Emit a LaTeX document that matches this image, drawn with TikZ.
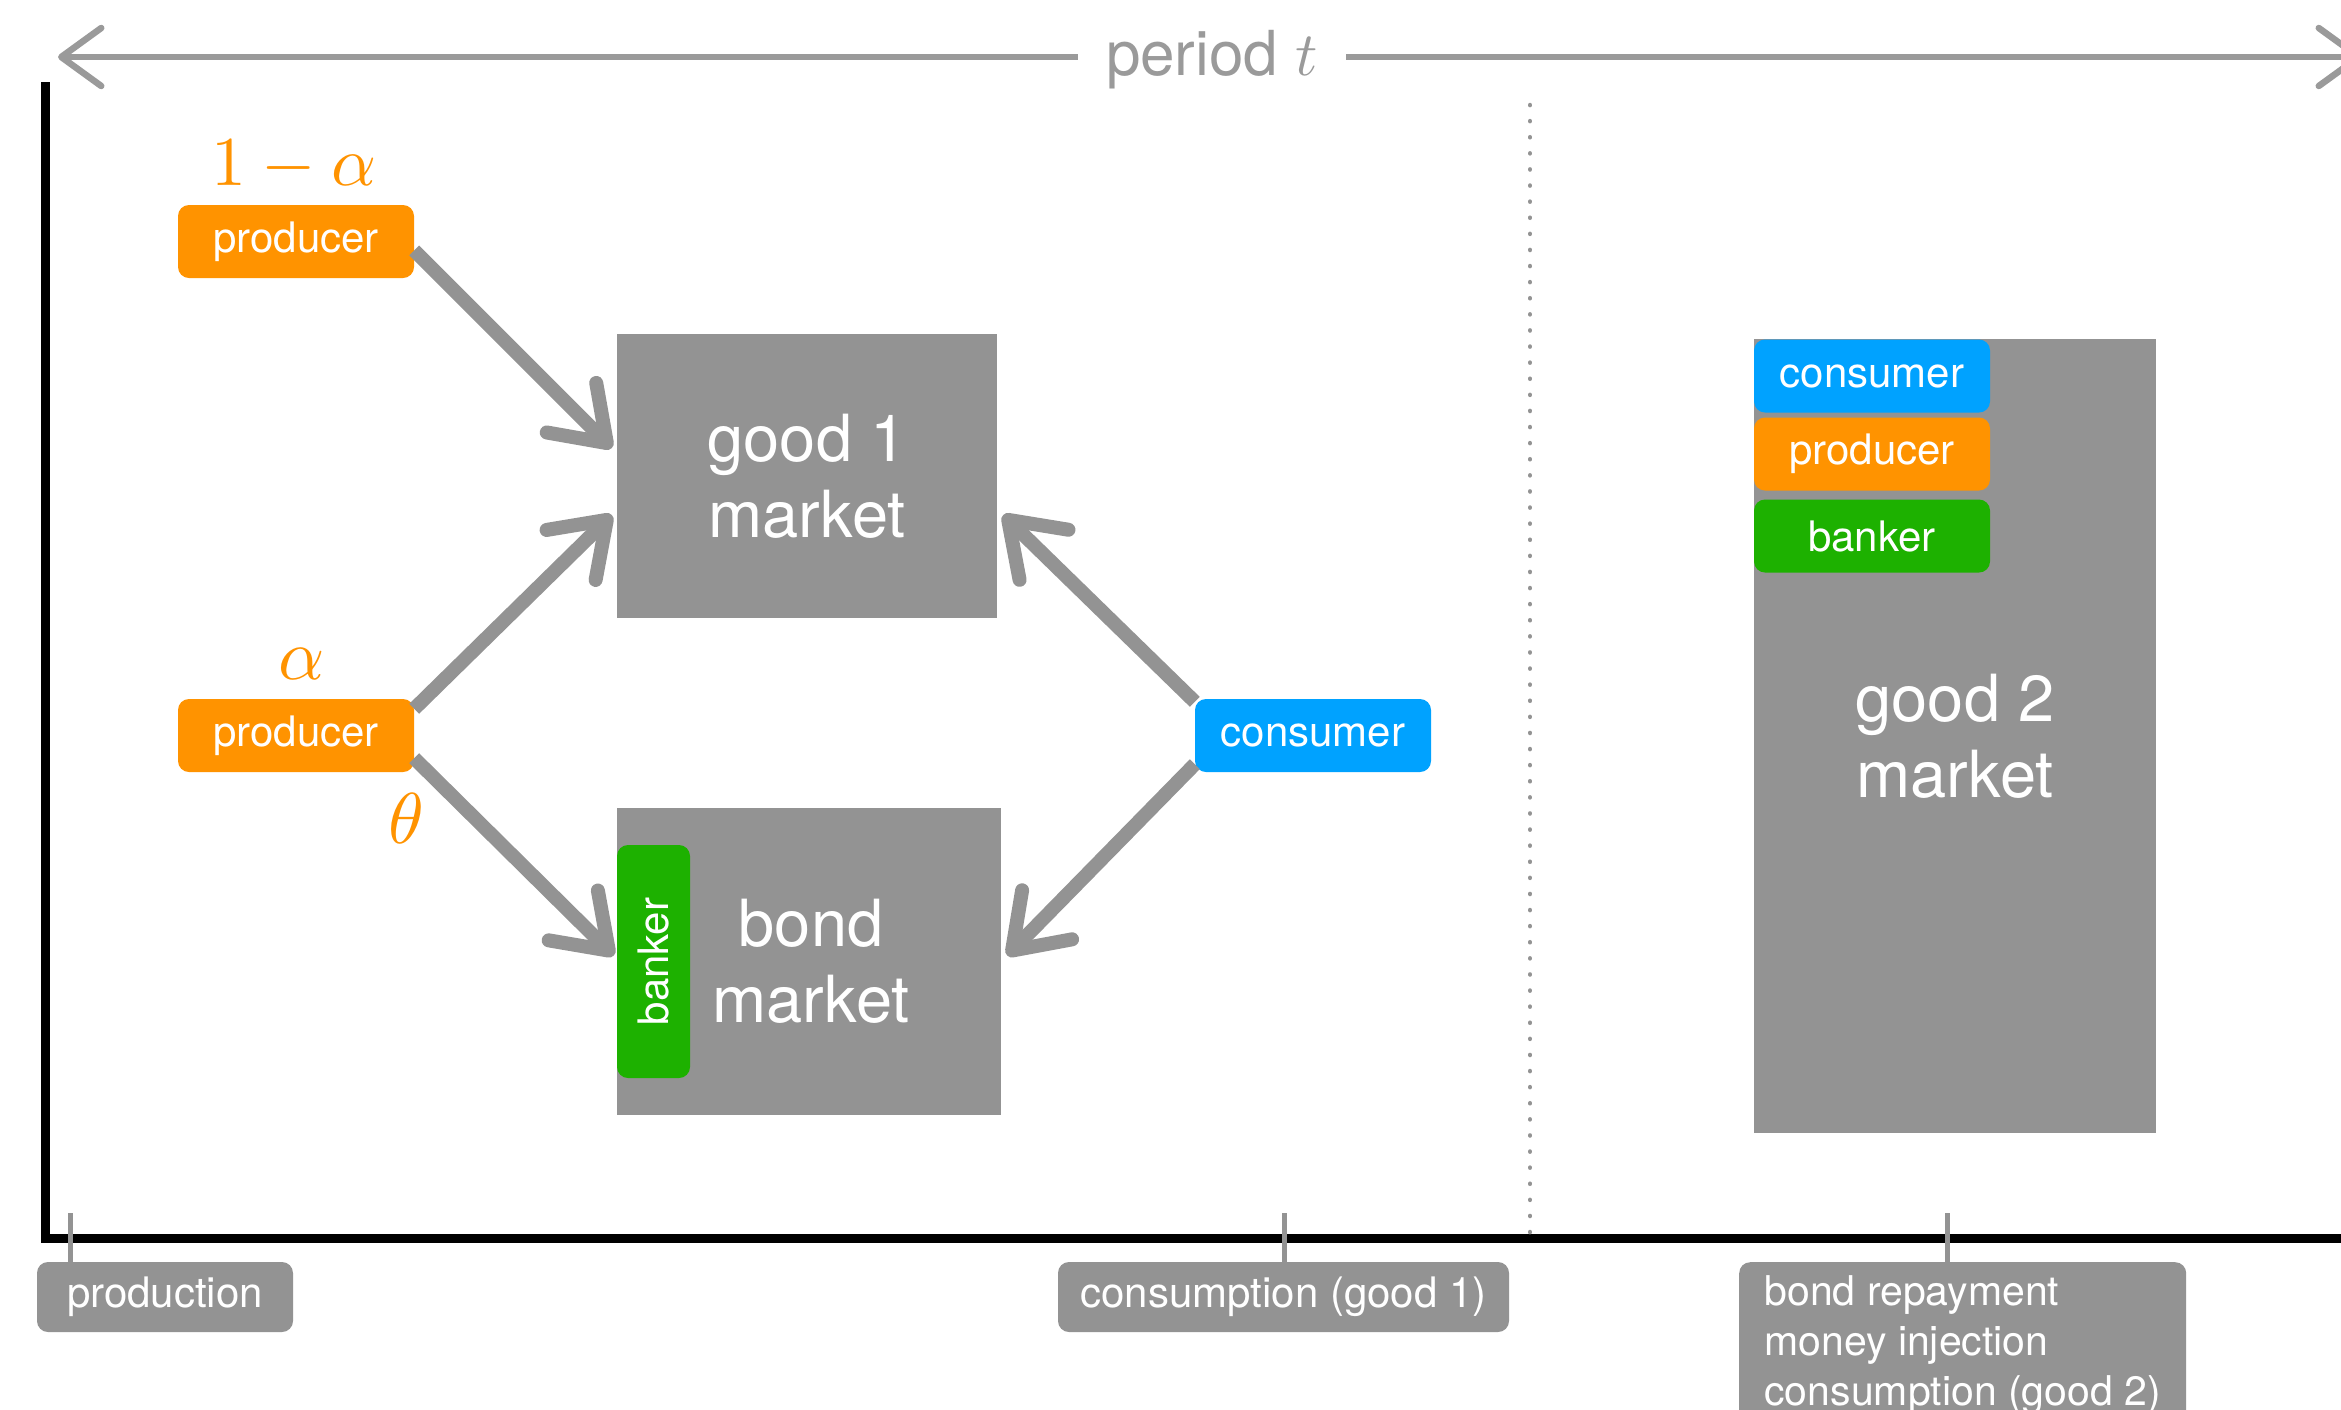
\documentclass[tikz,border=0pt]{standalone}
\usepackage[no-math]{fontspec}
\setsansfont{TeX Gyre Heros}
\usepackage{graphicx}
\usetikzlibrary{arrows.meta}
\definecolor{mgray}{HTML}{939393}
\definecolor{korange}{HTML}{FF9300}
\definecolor{kblue}{HTML}{00A2FF}
\definecolor{kgreen}{HTML}{1DB100}
\definecolor{pgray}{HTML}{9A9A9A}
\begin{document}
\begin{tikzpicture}[x=1pt,y=-1pt,
  agent/.style={rounded corners=11pt, text=white, font=\sffamily\fontsize{42}{50}\selectfont, minimum width=236pt, minimum height=73pt, inner sep=0pt},
  market/.style={fill=mgray, text=white, font=\sffamily\fontsize{65}{76}\selectfont, align=center, inner sep=0pt},
  note/.style={fill=mgray, rounded corners=11pt, text=white, font=\sffamily\fontsize{42}{50}\selectfont, inner sep=0pt},
  flow/.style={draw=mgray, line width=14pt, -{Straight Barb[length=50pt,width=70pt,round]}},
  mathlab/.style={text=korange, inner sep=0pt},
  periodline/.style={draw=pgray, line width=6.5pt, -{Straight Barb[length=40pt,width=58pt,round]}},
  axisline/.style={draw=black, line width=9pt},
  ticktick/.style={draw=mgray, line width=5pt},
  dotline/.style={draw=mgray, line width=4.5pt, line cap=round, dash pattern=on 0.1pt off 16pt}
]
\path[fill=white, use as bounding box] (0,0) rectangle (2341,1409);

% axes
\coordinate (axTop) at (45,82);
\coordinate (axO) at (45,1238);
\coordinate (axEnd) at (2345,1238);
\draw[axisline] (axTop) -- (axO) -- (axEnd);

% dotted separator
\coordinate (dTop) at (1530,105);
\draw[dotline] (dTop) -- (dTop |- axO);

% period arrow
\coordinate (pL) at (58,57);
\coordinate (pR) at (2362,57);
\node[text=pgray, font=\sffamily\fontsize{62}{70}\selectfont, inner xsep=28pt] (period) at (1212,60) {period {\normalsize\scalebox{6.2}{$t$}}};
\draw[periodline] (period.west |- pL) -- (pL);
\draw[periodline] (period.east |- pR) -- (pR);

% agents
\node[agent, fill=korange] (prodA) at (296,241.5) {producer};
\node[agent, fill=korange] (prodB) at (296,735.5) {producer};
\node[agent, fill=kblue] (cons) at (1313,735.5) {consumer};

% markets
\node[market, minimum width=380pt, minimum height=284pt] (g1) at (807,476) {good 1\\market};
\node[market, minimum width=380pt, minimum height=307pt] (bm) at (811,961.5) {bond\\market};
\fill[mgray] (617,808) rectangle (700,1115);
\node[agent, fill=kgreen, minimum width=233pt, rotate=90] (bankA) at (653.5,961.5) {banker};

\node[market, minimum width=402pt, minimum height=794pt] (g2) at (1955,736) {good 2\\market};
\node[agent, fill=kblue] (cons2) at (1872,376) {consumer};
\node[agent, fill=korange] (prod2) at (1872,454) {producer};
\node[agent, fill=kgreen] (bank2) at (1872,536) {banker};

% weights
\node[mathlab] (oneminus) at (294,166) {\scalebox{7}{$1-\alpha$}};
\node[mathlab] (alab) at (302,664) {\scalebox{7.2}{$\alpha$}};
\node[mathlab] (tlab) at (406,818) {\scalebox{7.2}{$\theta$}};

% flows
\draw[flow] ([yshift=-9pt]prodA.east) -- ([xshift=-5pt,yshift=28pt]g1.west);
\draw[flow] ([yshift=-10pt]prodB.north east) -- ([xshift=-5pt,yshift=-39pt]g1.west);
\draw[flow] ([yshift=14pt]prodB.south east) -- ([xshift=-7pt,yshift=6pt]bm.west);
\draw[flow] ([yshift=-3pt]cons.north west) -- ([xshift=6pt,yshift=-39pt]g1.east);
\draw[flow] ([yshift=8pt]cons.south west) -- ([xshift=6pt,yshift=6pt]bm.east);

% timeline labels
\node[note, minimum width=256pt, minimum height=70pt] (lprod) at (165,1297) {production};
\node[note, minimum width=451pt, minimum height=70pt] (lcons) at (1283.5,1297) {consumption (good 1)};
\node[note, anchor=north west, minimum width=447pt, inner xsep=22pt, inner ysep=13pt, align=left, font=\sffamily\fontsize{41}{50}\selectfont] (lbond) at (1739,1262) {bond repayment\\money injection\\consumption (good 2)};

\coordinate (t1) at (70,1213);
\coordinate (t2) at (1284,1213);
\coordinate (t3) at (1947,1213);
\draw[ticktick] (t1) -- (t1 |- lprod.north);
\draw[ticktick] (t2) -- (t2 |- lcons.north);
\draw[ticktick] (t3) -- (t3 |- lbond.north);
\end{tikzpicture}
\end{document}
